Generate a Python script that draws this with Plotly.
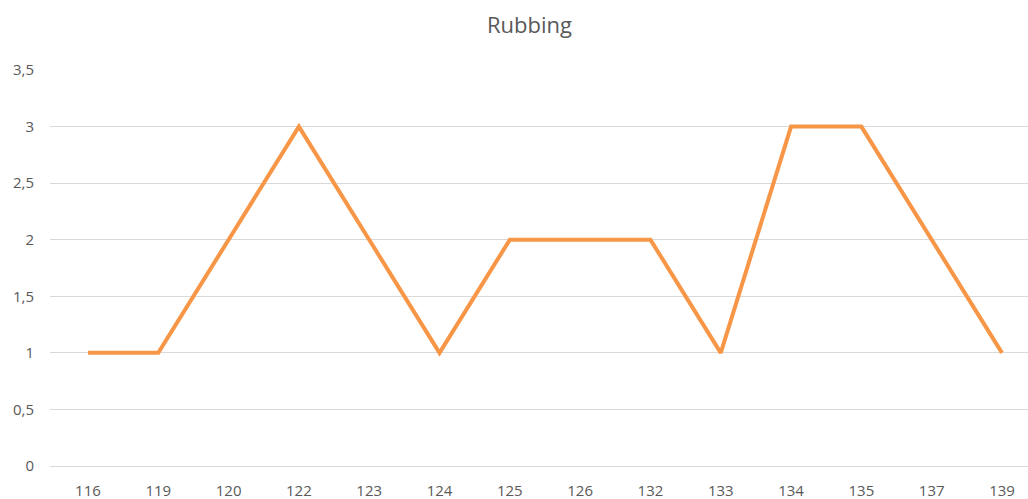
import plotly.graph_objects as go

categories = ["116", "119", "120", "122", "123", "124", "125", "126", "132", "133", "134", "135", "137", "139"]
values = [1, 1, 2, 3, 2, 1, 2, 2, 2, 1, 3, 3, 2, 1]
y_ticks = [0, 0.5, 1, 1.5, 2, 2.5, 3, 3.5]

fig = go.Figure()
fig.add_trace(go.Scatter(
    x=list(range(len(categories))), y=values, mode="lines",
    line=dict(color="#F79646", width=4), showlegend=False,
))

fig.update_layout(
    width=1028, height=499,
    margin=dict(l=50, r=0, t=70, b=33),
    plot_bgcolor="white", paper_bgcolor="white",
    separators=",.",
    font=dict(family="Open Sans, sans-serif", color="#595959", size=15),
    title=dict(text="Rubbing", x=0.515, xanchor="center", y=0.95, yanchor="middle",
               font=dict(size=22, color="#595959")),
    xaxis=dict(
        tickmode="array", tickvals=list(range(len(categories))), ticktext=categories,
        range=[-0.54, 13.37], showgrid=False, zeroline=False,
        showline=True, linecolor="#D9D9D9", linewidth=1,
        ticks="outside", ticklen=11, tickcolor="rgba(0,0,0,0)", automargin=False,
    ),
    yaxis=dict(
        range=[0, 3.5], tickvals=y_ticks, showgrid=True, gridcolor="#D9D9D9", gridwidth=1,
        zeroline=False, showline=False,
        ticks="outside", ticklen=12, tickcolor="rgba(0,0,0,0)", automargin=False,
    ),
)

fig.write_html("out.html", config={"displayModeBar": False},
               post_script="document.body.style.margin='0';document.body.style.padding='0';")
